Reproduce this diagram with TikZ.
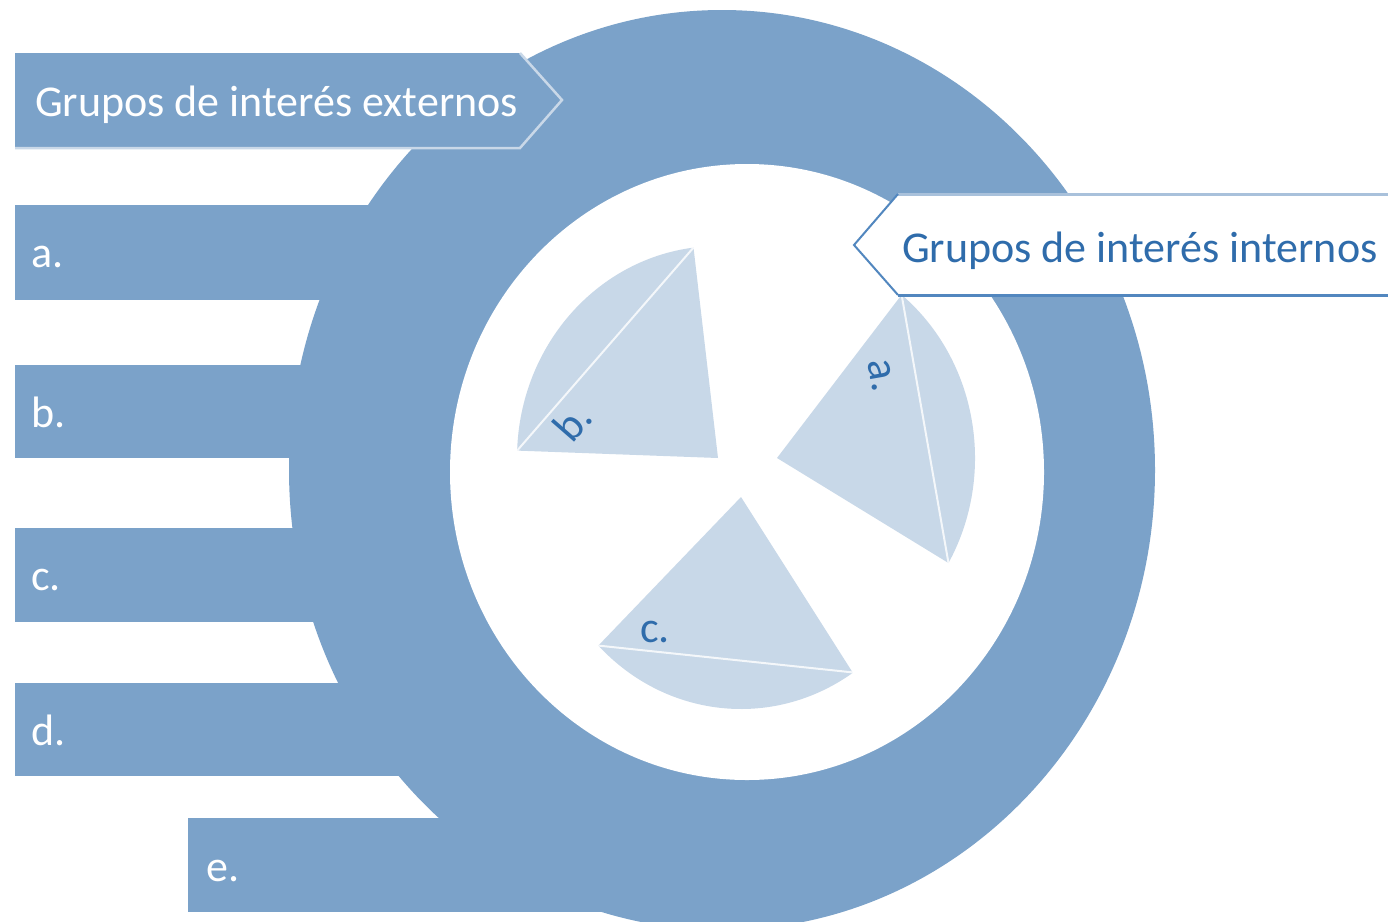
\documentclass[tikz,border=0pt]{standalone}
\usepackage{fontspec}
\setmainfont{Carlito}
\definecolor{ringblue}{HTML}{7BA2C9}
\definecolor{wedgeblue}{HTML}{C8D8E8}
\definecolor{textblue}{HTML}{2F6CAB}
\definecolor{edgelight}{HTML}{C9D8E8}
\definecolor{edgetop}{HTML}{A9C1DB}
\definecolor{edgeblue}{HTML}{5287BF}
\tikzset{
  lbl/.style={font=\fontsize{44}{52}\selectfont, inner sep=0pt},
  barlbl/.style={lbl, text=white, anchor=base west},
  wedgelbl/.style={lbl, text=textblue},
  barfill/.style={fill=ringblue},
  wedgefill/.style={fill=wedgeblue},
  chord/.style={draw=white, line width=2pt, opacity=0.8}
}
\begin{document}
\begin{tikzpicture}[x=1pt,y=-1pt]
\clip (0,0) rectangle (1388,921);
\fill[white] (0,0) rectangle (1388,921);
% outer ring
\fill[ringblue] (722,470) ellipse[x radius=433, y radius=460];
% bars
\fill[barfill] (15,205) rectangle (747,300);
\fill[barfill] (15,365) rectangle (747,458);
\fill[barfill] (15,528) rectangle (747,622);
\fill[barfill] (15,683) rectangle (747,776);
\fill[barfill] (188,818) rectangle (640,912);
% inner hole
\fill[white] (747,472) ellipse[x radius=297, y radius=308];
% wedges (elliptical sectors)
\coordinate (bc) at (718,458);
\path (bc) ++({201*cos(-97)},{212*sin(-97)}) coordinate (b1)
      (bc) ++({201*cos(-178)},{212*sin(-178)}) coordinate (b2);
\fill[wedgefill] (bc) -- (b1) arc[start angle=-97, end angle=-178, x radius=201, y radius=212] -- cycle;
\draw[chord] (b1) -- (b2);
\coordinate (ac) at (777,458);
\path (ac) ++({198*cos(-51)},{210*sin(-51)}) coordinate (a1)
      (ac) ++({198*cos(30)},{210*sin(30)}) coordinate (a2);
\fill[wedgefill] (ac) -- (a1) arc[start angle=-51, end angle=30, x radius=198, y radius=210] -- cycle;
\draw[chord] (a1) -- (a2);
\coordinate (cc) at (741,497);
\path (cc) ++({200*cos(135.5)},{212*sin(135.5)}) coordinate (c1)
      (cc) ++({206*cos(56)},{212*sin(56)}) coordinate (c2);
\fill[wedgefill] (cc) -- (c1) arc[start angle=135.5, end angle=56, x radius=200, y radius=212] -- cycle;
\draw[chord] (c1) -- (c2);
\node[wedgelbl, rotate=49] (wb) at (572,422) {b.};
\node[wedgelbl, rotate=-80] (wa) at (881,376) {a.};
\node[wedgelbl] (wc) at (655,632) {c.};
% external banner
\fill[ringblue] (15,53) -- (520,53) -- (562,100) -- (520,148) -- (15,148) -- cycle;
\draw[edgelight, line width=2.5pt] (520,53) -- (562,100) -- (520,148) -- (15,148);
\node[barlbl] (ext) at (35,116) {Grupos de interés externos};
% internal banner
\fill[white] (1390,194) -- (898,194) -- (854,245) -- (898,295) -- (1390,295) -- cycle;
\draw[edgetop, line width=3pt] (898,194) -- (1390,194);
\draw[edgeblue, line width=2pt] (898,194) -- (854,245) -- (898,295);
\draw[edgeblue, line width=3pt] (898,295) -- (1390,295);
\node[lbl, text=textblue, anchor=base west] (int) at (902,262) {Grupos de interés internos};
% bar labels
\node[barlbl] (la) at (31,267) {a.};
\node[barlbl] (lb) at (31,427) {b.};
\node[barlbl] (lc) at (31,590) {c.};
\node[barlbl] (ld) at (31,745) {d.};
\node[barlbl] (le) at (206,881) {e.};
\end{tikzpicture}
\end{document}
